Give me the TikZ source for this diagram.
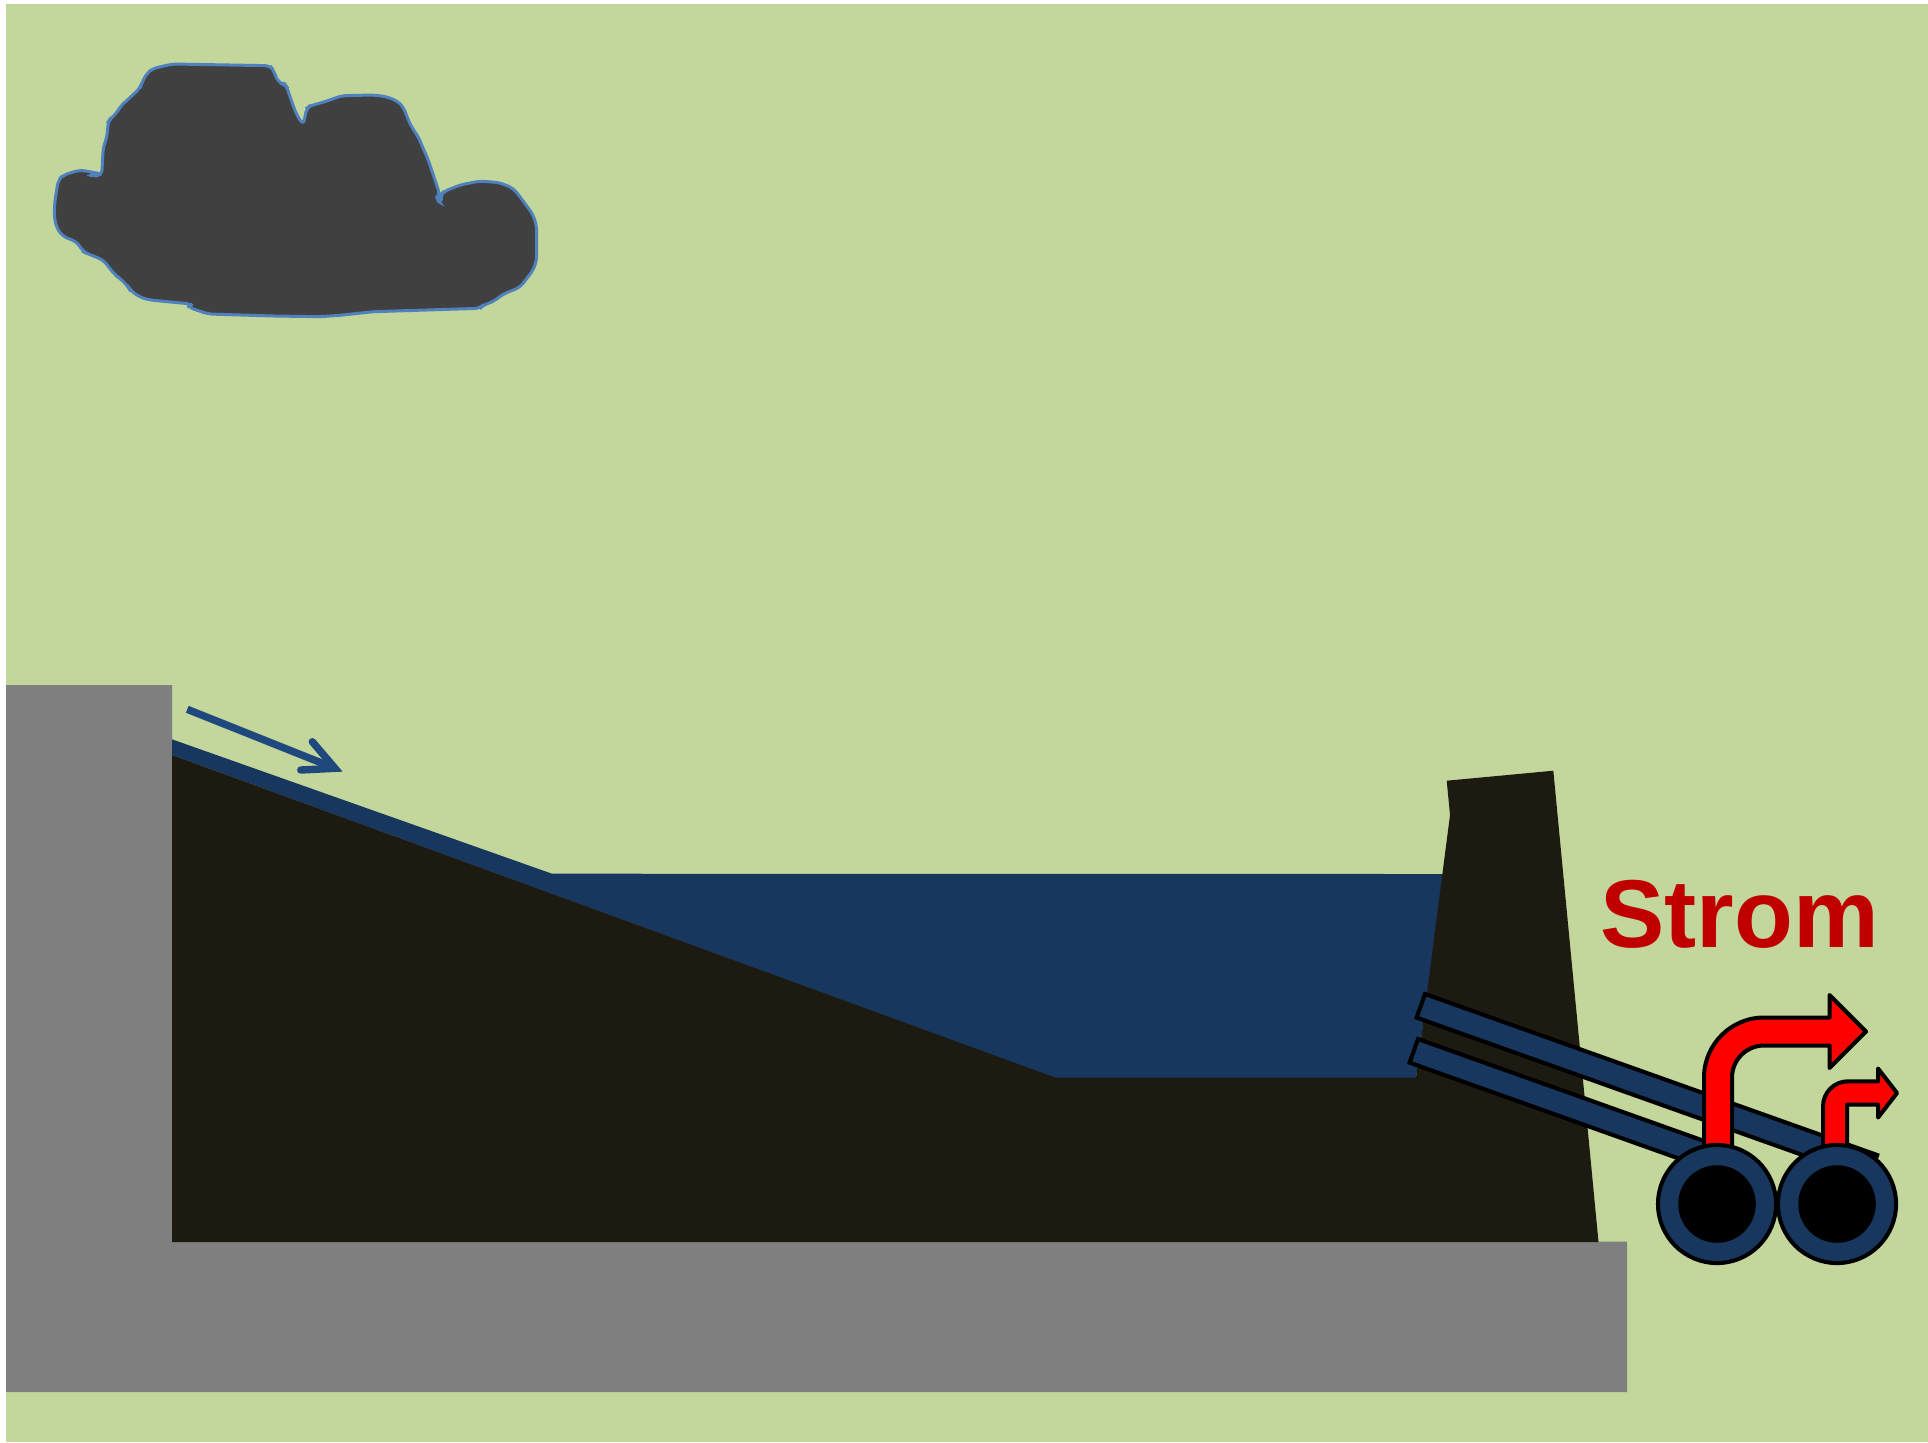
\documentclass[tikz,border=0pt]{standalone}
\usepackage{fontspec}
\newfontfamily\labelfont{Liberation Sans}
\definecolor{sky}{HTML}{C3D69B}
\definecolor{rock}{HTML}{7F7F7F}
\definecolor{soil}{HTML}{1D1B11}
\definecolor{water}{HTML}{17375E}
\definecolor{flow}{HTML}{1F497D}
\definecolor{cloudfill}{HTML}{404040}
\definecolor{cloudline}{HTML}{4F81BD}
\definecolor{power}{HTML}{FF0000}
\definecolor{powertext}{HTML}{C00000}
\tikzset{
  pipe/.style={fill=water, draw=black, line width=1.15pt, line join=miter},
  powerarrow/.style={fill=power, draw=black, line width=1.15pt, line join=round},
  wheel/.style={fill=water, draw=black, line width=1.15pt},
  hub/.style={fill=black, draw=black, line width=1pt},
}
\begin{document}
\begin{tikzpicture}[x=0.01cm,y=-0.01cm]
% canvas and sky
\path[fill=white,use as bounding box] (0,0) rectangle (1928,1442);
\fill[sky] (6,3.5) rectangle (1928,1442);

% cloud
\draw[fill=cloudfill, draw=cloudline, line width=0.85pt, rounded corners=1.5pt]
  (172.7,64) -- (270,65.7) -- (273.3,70) -- (278.3,82.7) -- (285,84.3) -- (286.7,86.7)
  -- (291.7,101.7) -- (296.7,115) -- (303.3,125) -- (305,116.7) -- (306.7,108.3)
  -- (310,105.7) -- (323.3,102.3) -- (341.7,95.7) -- (373.3,95) -- (386.7,96.7)
  -- (396.7,100.7) -- (403.3,106.7) -- (408.3,120) -- (411.7,127.3) -- (418.3,136.7)
  -- (421.7,145) -- (428.3,160) -- (435,180) -- (440,195) -- (435,199.3) -- (441.7,203.3)
  -- (440.5,195.5) -- (443.3,191.7) -- (460,185) -- (480,181) -- (500,182.7) -- (513.3,188.3)
  -- (520,196.7) -- (533.3,215) -- (536.7,226.7) -- (536.7,260) -- (533.3,270)
  -- (520,287.3) -- (503.3,294) -- (493.3,301.7) -- (483.3,305) -- (480,308.3)
  -- (373.3,311.7) -- (340,315.3) -- (320,316.7) -- (273.3,316) -- (208.3,314)
  -- (188.3,307.3) -- (191.7,304) -- (150,300) -- (140,297.3) -- (130,290)
  -- (128.3,286.7) -- (120,278.3) -- (115,275) -- (103.3,260) -- (86.7,253.3)
  -- (83.3,251.7) -- (76.7,241.7) -- (63.3,236.7) -- (56.7,228.3) -- (54,215)
  -- (55,200) -- (58.3,180) -- (63.3,175) -- (80,170) -- (90,171.7) -- (101.7,174)
  -- (87.7,175.5) -- (101.7,176) -- (103.3,146.7) -- (106.7,138.3) -- (108.3,121.7)
  -- (110,119) -- (116.7,113.3) -- (120,106.7) -- (140,88.3) -- (141.7,83.3)
  -- (146.7,73.3) -- (153.3,68.3) -- cycle;

% rock: cliff and base
\fill[rock] (6,685) -- (172,685) -- (172,1241.5) -- (1627,1241.5) -- (1627,1392)
  -- (6,1392) -- cycle;

% water: run-off film on the slope and the reservoir
\fill[water] (172,739.3) -- (552,873.7) -- (1443,874) -- (1416,1078)
  -- (1055,1078) -- (172,755) -- cycle;

% ground under the reservoir together with the dam wall
\fill[soil] (172,755) -- (1055,1077.5) -- (1416,1077.5) -- (1450,815)
  -- (1446.7,780.7) -- (1553.3,770.7) -- (1598.5,1242) -- (172,1242) -- cycle;

% flow direction on the slope
\draw[flow, line width=2.1pt] (187.3,709.3) -- (331,766.7);
\draw[flow, line width=2.1pt, line cap=round, line join=miter]
  (312.3,741.7) -- (335,768.3) -- (300.7,770);

% penstocks
\draw[pipe] (1425,994) -- (1877.2,1155) -- (1868.8,1178.6) -- (1416.6,1017.6) -- cycle;
\draw[pipe] (1418,1039) -- (1722,1147.3) -- (1713.6,1170.9) -- (1409.6,1062.6) -- cycle;

% power output arrows
\draw[powerarrow] (1704,1150) -- (1704,1077.5)
  .. controls (1704,1044.4) and (1730.9,1017.5) .. (1764,1017.5)
  -- (1829.5,1017.5) -- (1829.5,995) -- (1866,1031.5) -- (1829.5,1068)
  -- (1829.5,1045.5) -- (1764,1045.5)
  .. controls (1746.3,1045.5) and (1732,1059.8) .. (1732,1077.5)
  -- (1732,1150) -- cycle;
\draw[powerarrow] (1823,1150) -- (1823,1106.3)
  .. controls (1823,1092.5) and (1834.2,1081.3) .. (1848,1081.3)
  -- (1878,1081.3) -- (1878,1068.5) -- (1897,1093) -- (1878,1117.5)
  -- (1878,1104.7) -- (1847,1104.7) -- (1847,1150) -- cycle;

% turbines
\draw[wheel] (1717,1204) circle[radius=0.59cm];
\draw[hub] (1717,1204) circle[radius=0.37cm];
\draw[wheel] (1837,1204) circle[radius=0.59cm];
\draw[hub] (1837,1204) circle[radius=0.37cm];

% label
\node[anchor=base west, inner sep=0pt, outer sep=0pt, text=powertext,
  font=\labelfont\bfseries\fontsize{27.4pt}{30pt}\selectfont] (strom) at (1600.5,947.3) {Strom};
\end{tikzpicture}
\end{document}
